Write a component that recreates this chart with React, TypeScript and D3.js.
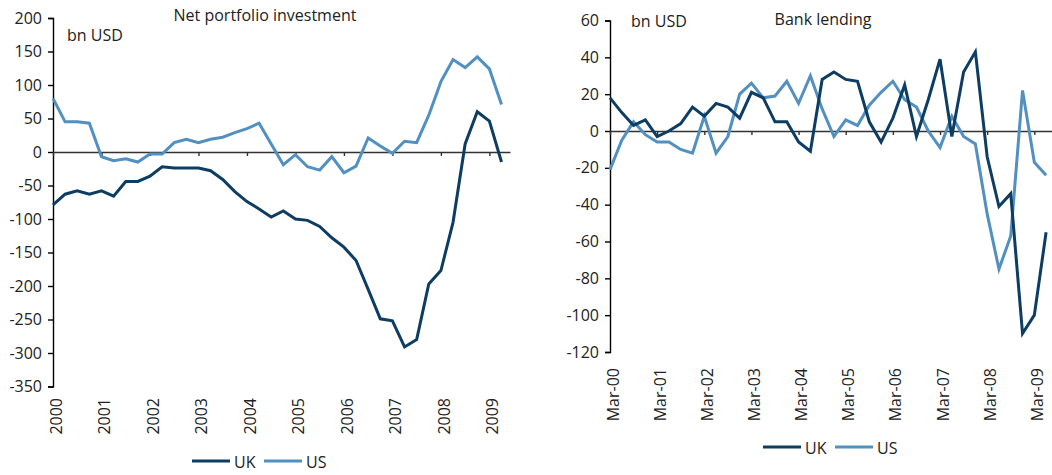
import React, { useEffect, useRef } from 'react';
import * as d3 from 'd3';

// quarterly data, 2000 Q1 .. 2009 Q2
const portfolioUK = [-79, -63, -58, -63, -58, -66, -44, -44, -36, -22, -24, -24, -24, -28, -41, -59, -74, -85, -97, -88,
  -100, -102, -111, -128, -142, -162, -205, -249, -252, -291, -280, -197, -177, -105, 12, 60, 46, -15];
const portfolioUS = [80, 45, 45, 43, -7, -13, -10, -15, -3, -3, 14, 19, 14, 19, 22, 29, 35, 43, 12, -19,
  -4, -22, -27, -7, -31, -21, 21, 9, -2, 16, 14, 55, 105, 138, 126, 142, 124, 71];
const lendingUK = [18, 10, 3, 6, -3, 0, 4, 13, 8, 15, 13, 7, 21, 18, 5, 5, -6, -11, 28, 32,
  28, 27, 5, -6, 7, 25, -3, 17, 39, -3, 32, 43, -14, -41, -34, -110, -100, -55];
const lendingUS = [-21, -5, 5, -2, -6, -6, -10, -12, 8, -12, -3, 20, 26, 18, 19, 27, 15, 30, 12, -3,
  6, 3, 14, 21, 27, 17, 13, 0, -9, 8, -3, -7, -45, -75, -57, 22, -17, -24];

const yearLabels = ['2000', '2001', '2002', '2003', '2004', '2005', '2006', '2007', '2008', '2009'];
const marLabels = ['Mar-00', 'Mar-01', 'Mar-02', 'Mar-03', 'Mar-04', 'Mar-05', 'Mar-06', 'Mar-07', 'Mar-08', 'Mar-09'];

const UK_COLOR = '#0d3d63';
const US_COLOR = '#5190c0';
const FONT = "'Open Sans', sans-serif";

export default function App() {
  const ref = useRef<SVGSVGElement>(null);

  useEffect(() => {
    const svg = d3.select(ref.current);
    svg.selectAll('*').remove();

    const panel = (opt: any) => {
      const g = svg.append('g');
      const x = d3.scaleLinear().domain([0, opt.xMax]).range([opt.left, opt.right]);
      const y = d3.scaleLinear().domain(opt.yDomain).range([opt.bottom, opt.top]);

      // y axis (plain hyphen for negatives, like the source)
      const yAxis = d3.axisLeft(y).tickValues(opt.yTicks).tickSize(5).tickPadding(6)
        .tickFormat((d: any) => String(d));
      const ya = g.append('g').attr('transform', `translate(${opt.left},0)`).call(yAxis);
      ya.select('.domain').attr('stroke', '#000').attr('stroke-width', 1.4);
      ya.selectAll('.tick line').attr('stroke', '#000').attr('stroke-width', 1.4);
      ya.selectAll('.tick text').style('font-family', FONT).style('font-size', '16px').attr('fill', '#222');

      // x axis on the zero line
      const tickIdx = d3.range(0, 37, 4);
      const xAxis = d3.axisBottom(x).tickValues(tickIdx).tickSize(4).tickSizeOuter(0).tickFormat(() => '');
      const xa = g.append('g').attr('transform', `translate(0,${y(0)})`).call(xAxis);
      xa.select('.domain').attr('stroke', '#333').attr('stroke-width', 1.4);
      xa.selectAll('.tick line').attr('stroke', '#333').attr('stroke-width', 1.4);

      // rotated category labels below the plot
      g.append('g').selectAll('text').data(tickIdx).join('text')
        .attr('transform', (d: number) => `translate(${x(d) + 3},${opt.labelY}) rotate(-90)`)
        .attr('text-anchor', 'end').attr('dy', '0.35em')
        .style('font-family', FONT).style('font-size', '16px').attr('fill', '#222')
        .text((d: number, i: number) => opt.labels[i]);

      const line = d3.line<number>().x((d, i) => x(i)).y(d => y(d));
      [[opt.us, US_COLOR], [opt.uk, UK_COLOR]].forEach(([data, c]: any) => {
        g.append('path').attr('d', line(data)).attr('fill', 'none')
          .attr('stroke', c).attr('stroke-width', 3).attr('stroke-linejoin', 'miter');
      });

      // title and unit
      g.append('text').attr('x', opt.titleX).attr('y', opt.titleY).attr('text-anchor', 'middle')
        .style('font-family', FONT).style('font-size', '16px').attr('fill', '#222').text(opt.title);
      g.append('text').attr('x', opt.unitX).attr('y', opt.unitY)
        .style('font-family', FONT).style('font-size', '16px').attr('fill', '#222').text('bn USD');

      // legend
      const lg = g.append('g').attr('transform', `translate(${opt.legX},${opt.legY})`);
      [['UK', UK_COLOR, 0], ['US', US_COLOR, 72]].forEach(([name, c, dx]: any) => {
        lg.append('line').attr('x1', dx).attr('x2', dx + 38).attr('y1', 0).attr('y2', 0)
          .attr('stroke', c).attr('stroke-width', 3);
        lg.append('text').attr('x', dx + 42).attr('y', 7)
          .style('font-family', FONT).style('font-size', '16px').attr('fill', '#222').text(name);
      });
    };

    panel({
      left: 53, right: 510, top: 18, bottom: 386.5, xMax: 37.7,
      yDomain: [-350, 200], yTicks: d3.range(-350, 201, 50),
      uk: portfolioUK, us: portfolioUS, labels: yearLabels, labelY: 398,
      title: 'Net portfolio investment', titleX: 265, titleY: 21, unitX: 67, unitY: 41,
      legX: 192, legY: 461,
    });
    panel({
      left: 610, right: 1052, top: 20.5, bottom: 352, xMax: 37.5,
      yDomain: [-120, 60], yTicks: d3.range(-120, 61, 20),
      uk: lendingUK, us: lendingUS, labels: marLabels, labelY: 368,
      title: 'Bank lending', titleX: 823, titleY: 25, unitX: 631, unitY: 27,
      legX: 763, legY: 447,
    });
  }, []);

  return (
    <svg ref={ref} width={1052} height={475}
      style={{ position: 'absolute', left: 0, top: 0, background: '#fff' }} />
  );
}
